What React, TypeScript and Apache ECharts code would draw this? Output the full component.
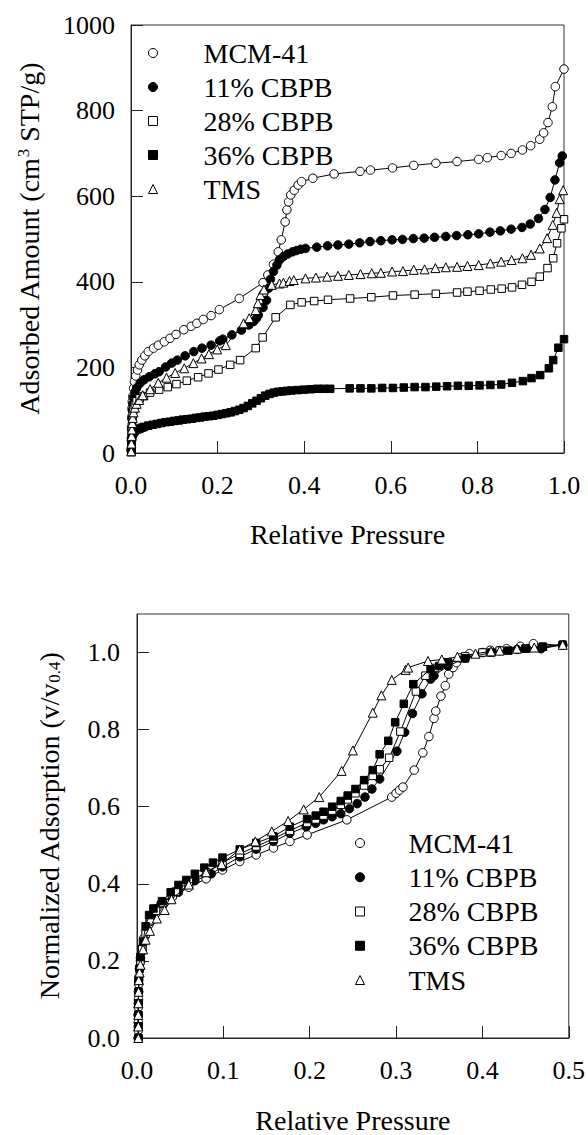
import React, { useEffect, useRef } from "react";
import * as echarts from "echarts";

const FONT = "Liberation Serif";

const SERIES_NAMES = ["MCM-41", "11% CBPB", "28% CBPB", "36% CBPB", "TMS"];
const SYMBOLS = ["circle", "circle", "rect", "rect", "triangle"];
const FILLS = ["#ffffff", "#000000", "#ffffff", "#000000", "#ffffff"];

const TOP_X_TICKS = ["0.0", "0.2", "0.4", "0.6", "0.8", "1.0"];
const TOP_Y_TICKS = ["0", "200", "400", "600", "800", "1000"];
const BOT_X_TICKS = ["0.0", "0.1", "0.2", "0.3", "0.4", "0.5"];
const BOT_Y_TICKS = ["0.0", "0.2", "0.4", "0.6", "0.8", "1.0"];

// Top chart: adsorbed amount (cm3 STP/g) vs relative pressure
const MCM41_TOP = [
  [0.0005, 8], [0.001, 35], [0.0015, 60], [0.002, 85], [0.0025, 105], [0.003, 120], [0.004, 132],
  [0.006, 151], [0.008, 167], [0.011, 180], [0.015, 194], [0.019, 206], [0.025, 217], [0.032, 227],
  [0.04, 237], [0.052, 245], [0.063, 252], [0.077, 260], [0.09, 268], [0.104, 277], [0.122, 288],
  [0.139, 296], [0.152, 303], [0.167, 312], [0.185, 321], [0.204, 335], [0.25, 361], [0.305, 398],
  [0.316, 416], [0.329, 441], [0.34, 470], [0.347, 498], [0.356, 540], [0.36, 568], [0.364, 587],
  [0.369, 603], [0.377, 614], [0.386, 626], [0.394, 634], [0.42, 642], [0.469, 652], [0.529, 658],
  [0.553, 661], [0.604, 666], [0.653, 672], [0.704, 677], [0.753, 681], [0.803, 686], [0.823, 690],
  [0.855, 695], [0.878, 700], [0.904, 708], [0.923, 718], [0.944, 733], [0.953, 748], [0.963, 772],
  [0.973, 809], [0.98, 856], [1.0, 897],
];
const CBPB11_TOP = [
  [0.0005, 5], [0.001, 30], [0.0015, 55], [0.002, 80], [0.003, 100], [0.004, 115], [0.006, 130],
  [0.009, 142], [0.013, 152], [0.021, 163], [0.03, 171], [0.042, 178], [0.055, 185], [0.065, 190],
  [0.08, 201], [0.094, 210], [0.107, 217], [0.125, 227], [0.145, 237], [0.164, 245], [0.185, 252],
  [0.205, 262], [0.212, 266], [0.233, 276], [0.255, 287], [0.272, 299], [0.283, 307], [0.29, 315],
  [0.294, 322], [0.305, 340], [0.313, 357], [0.318, 385], [0.322, 406], [0.329, 424], [0.337, 439],
  [0.343, 451], [0.352, 459], [0.362, 465], [0.373, 470], [0.382, 473], [0.392, 476], [0.403, 478],
  [0.429, 481], [0.454, 484], [0.478, 486], [0.503, 488], [0.528, 491], [0.552, 494], [0.577, 496],
  [0.603, 498], [0.627, 499], [0.652, 501], [0.677, 502], [0.701, 504], [0.727, 506], [0.752, 508],
  [0.778, 510], [0.803, 512], [0.829, 516], [0.853, 519], [0.878, 523], [0.903, 527], [0.922, 535],
  [0.941, 548], [0.956, 569], [0.968, 597], [0.979, 638], [0.99, 678], [0.996, 694],
];
const CBPB28_TOP = [
  [0.0005, 5], [0.001, 25], [0.0015, 45], [0.002, 62], [0.003, 78], [0.004, 90], [0.006, 102],
  [0.009, 112], [0.013, 121], [0.02, 128], [0.03, 133], [0.044, 141], [0.065, 148], [0.085, 154],
  [0.105, 161], [0.129, 169], [0.155, 177], [0.179, 186], [0.202, 195], [0.229, 206], [0.252, 217],
  [0.288, 245], [0.304, 270], [0.334, 317], [0.368, 346], [0.394, 352], [0.423, 355], [0.455, 358],
  [0.506, 361], [0.555, 364], [0.605, 368], [0.655, 370], [0.704, 372], [0.753, 375], [0.777, 377],
  [0.805, 379], [0.831, 382], [0.856, 384], [0.88, 387], [0.903, 393], [0.925, 400], [0.944, 412],
  [0.962, 432], [0.975, 455], [0.984, 490], [0.994, 525], [1.0, 546],
];
const CBPB36_TOP = [
  [0.0005, 2], [0.001, 10], [0.0015, 22], [0.002, 32], [0.003, 40], [0.004, 44], [0.006, 48],
  [0.008, 51], [0.01, 53], [0.015, 55], [0.02, 57], [0.025, 59], [0.03, 61], [0.04, 64], [0.05, 66],
  [0.06, 68], [0.07, 70], [0.08, 72], [0.09, 73], [0.1, 75], [0.11, 76], [0.12, 78], [0.13, 79],
  [0.14, 80], [0.15, 82], [0.16, 83], [0.17, 85], [0.18, 86], [0.19, 87], [0.2, 89], [0.21, 91],
  [0.22, 93], [0.23, 95], [0.24, 98], [0.25, 101], [0.26, 105], [0.27, 110], [0.28, 116],
  [0.29, 122], [0.3, 128], [0.31, 134], [0.32, 138], [0.33, 141], [0.34, 143], [0.35, 144],
  [0.36, 145], [0.37, 146], [0.385, 147], [0.4, 148], [0.415, 149], [0.43, 150], [0.445, 150],
  [0.46, 150], [0.505, 151], [0.53, 151], [0.555, 151], [0.58, 152], [0.605, 152], [0.63, 153],
  [0.655, 154], [0.68, 154], [0.705, 155], [0.73, 156], [0.755, 157], [0.78, 157], [0.805, 158],
  [0.83, 159], [0.855, 160], [0.88, 164], [0.905, 168], [0.925, 175], [0.945, 182], [0.965, 198],
  [0.975, 217], [0.987, 246], [1.0, 266],
];
const TMS_TOP = [
  [0.0005, 4], [0.001, 22], [0.0015, 40], [0.002, 55], [0.003, 70], [0.004, 82], [0.006, 95],
  [0.009, 106], [0.013, 115], [0.019, 124], [0.027, 135], [0.044, 149], [0.063, 164], [0.082, 176],
  [0.102, 187], [0.123, 198], [0.144, 210], [0.163, 221], [0.18, 231], [0.199, 242], [0.219, 252],
  [0.26, 303], [0.273, 315], [0.288, 334], [0.293, 350], [0.299, 369], [0.307, 382], [0.325, 393],
  [0.343, 396], [0.352, 398], [0.366, 402], [0.376, 404], [0.403, 408], [0.427, 410], [0.453, 412],
  [0.478, 414], [0.503, 416], [0.53, 418], [0.556, 420], [0.577, 421], [0.603, 424], [0.628, 425],
  [0.653, 428], [0.678, 429], [0.703, 432], [0.727, 434], [0.753, 435], [0.777, 437], [0.803, 439],
  [0.83, 443], [0.855, 447], [0.879, 451], [0.904, 455], [0.924, 463], [0.944, 478], [0.961, 502],
  [0.974, 533], [0.983, 561], [0.99, 593], [0.998, 614],
];

// Bottom chart: normalized adsorption (v/v0.4) vs relative pressure
const MCM41_BOT = [
  [0.0015, 0.0], [0.0015, 0.02], [0.0015, 0.04], [0.0015, 0.06], [0.0016, 0.08], [0.0017, 0.1],
  [0.0018, 0.12], [0.002, 0.14], [0.0025, 0.16], [0.003, 0.18], [0.004, 0.208], [0.006, 0.235],
  [0.008, 0.259], [0.011, 0.28], [0.015, 0.302], [0.023, 0.336], [0.032, 0.352], [0.041, 0.366],
  [0.06, 0.391], [0.08, 0.413], [0.099, 0.436], [0.119, 0.458], [0.138, 0.475], [0.158, 0.493],
  [0.177, 0.51], [0.197, 0.527], [0.243, 0.566], [0.295, 0.625], [0.3, 0.635], [0.304, 0.643],
  [0.308, 0.651], [0.321, 0.695], [0.331, 0.74], [0.338, 0.782], [0.344, 0.829], [0.346, 0.848],
  [0.352, 0.887], [0.357, 0.914], [0.361, 0.944], [0.366, 0.961], [0.37, 0.974], [0.374, 0.986],
  [0.385, 0.997], [0.409, 1.006], [0.428, 1.01], [0.444, 1.016], [0.459, 1.023], [0.493, 1.019],
];
const CBPB11_BOT = [
  [0.0015, 0.0], [0.0015, 0.03], [0.0015, 0.06], [0.0016, 0.09], [0.0018, 0.12], [0.002, 0.15],
  [0.003, 0.18], [0.004, 0.2], [0.006, 0.225], [0.011, 0.276], [0.018, 0.319], [0.028, 0.349],
  [0.048, 0.378], [0.067, 0.408], [0.086, 0.426], [0.099, 0.444], [0.119, 0.47], [0.138, 0.49],
  [0.158, 0.51], [0.177, 0.531], [0.196, 0.548], [0.207, 0.557], [0.216, 0.566], [0.226, 0.574],
  [0.236, 0.582], [0.246, 0.595], [0.255, 0.608], [0.264, 0.625], [0.272, 0.646], [0.281, 0.672],
  [0.301, 0.744], [0.31, 0.793], [0.319, 0.842], [0.33, 0.893], [0.34, 0.931], [0.344, 0.94],
  [0.36, 0.965], [0.38, 0.985], [0.4, 1.0], [0.42, 1.005], [0.44, 1.008], [0.468, 1.01],
  [0.493, 1.02],
];
const CBPB28_BOT = [
  [0.0015, 0.0], [0.0015, 0.03], [0.0015, 0.06], [0.0016, 0.09], [0.0018, 0.12], [0.002, 0.15],
  [0.003, 0.18], [0.004, 0.2], [0.006, 0.23], [0.01, 0.27], [0.015, 0.305], [0.022, 0.33],
  [0.03, 0.35], [0.045, 0.38], [0.06, 0.405], [0.08, 0.43], [0.099, 0.455], [0.119, 0.478],
  [0.138, 0.497], [0.158, 0.517], [0.177, 0.538], [0.197, 0.558], [0.207, 0.567], [0.216, 0.577],
  [0.226, 0.59], [0.236, 0.605], [0.244, 0.619], [0.253, 0.635], [0.263, 0.655], [0.273, 0.68],
  [0.281, 0.697], [0.292, 0.727], [0.305, 0.795], [0.323, 0.899], [0.334, 0.94], [0.345, 0.96],
  [0.36, 0.975], [0.38, 0.99], [0.4, 1.0], [0.42, 1.005], [0.45, 1.01], [0.47, 1.015],
  [0.493, 1.02],
];
const CBPB36_BOT = [
  [0.0015, 0.0], [0.0015, 0.03], [0.0015, 0.06], [0.0016, 0.09], [0.0018, 0.12], [0.002, 0.15],
  [0.003, 0.18], [0.004, 0.21], [0.007, 0.25], [0.01, 0.29], [0.014, 0.319], [0.019, 0.336],
  [0.029, 0.355], [0.039, 0.378], [0.048, 0.397], [0.057, 0.41], [0.067, 0.426], [0.078, 0.442],
  [0.088, 0.455], [0.099, 0.468], [0.119, 0.489], [0.138, 0.506], [0.158, 0.523], [0.177, 0.548],
  [0.197, 0.568], [0.207, 0.577], [0.216, 0.587], [0.226, 0.6], [0.236, 0.615], [0.244, 0.629],
  [0.253, 0.646], [0.263, 0.669], [0.273, 0.695], [0.281, 0.736], [0.291, 0.771], [0.299, 0.819],
  [0.309, 0.867], [0.32, 0.918], [0.34, 0.957], [0.35, 0.965], [0.36, 0.972], [0.38, 0.985],
  [0.41, 1.0], [0.43, 1.005], [0.45, 1.01], [0.47, 1.015], [0.493, 1.02],
];
const TMS_BOT = [
  [0.0015, 0.0], [0.0015, 0.03], [0.0015, 0.06], [0.0016, 0.09], [0.0018, 0.12], [0.002, 0.15],
  [0.003, 0.17], [0.004, 0.19], [0.007, 0.23], [0.01, 0.255], [0.015, 0.278], [0.023, 0.31],
  [0.032, 0.332], [0.04, 0.36], [0.06, 0.398], [0.08, 0.43], [0.098, 0.451], [0.119, 0.489],
  [0.137, 0.51], [0.156, 0.536], [0.175, 0.563], [0.193, 0.593], [0.211, 0.625], [0.237, 0.693],
  [0.25, 0.746], [0.273, 0.844], [0.283, 0.889], [0.295, 0.929], [0.311, 0.955], [0.314, 0.961],
  [0.337, 0.978], [0.353, 0.982], [0.371, 0.989], [0.392, 0.997], [0.41, 1.003], [0.42, 1.005],
  [0.44, 1.01], [0.46, 1.013], [0.493, 1.02],
];

const TOP_DATA = [MCM41_TOP, CBPB11_TOP, CBPB28_TOP, CBPB36_TOP, TMS_TOP];
const BOT_DATA = [MCM41_BOT, CBPB11_BOT, CBPB28_BOT, CBPB36_BOT, TMS_BOT];

function buildOption() {
  const tickLabel = (labels: string[], min: number, step: number) => ({
    color: "#000",
    fontFamily: FONT,
    fontSize: 26,
    formatter: (v: number) => labels[Math.round((v - min) / step)] ?? "",
  });

  const mkSeries = (data: number[][], i: number, axis: number) => ({
    name: SERIES_NAMES[i],
    type: "line",
    xAxisIndex: axis,
    yAxisIndex: axis,
    data,
    symbol: SYMBOLS[i],
    symbolSize: SYMBOLS[i] === "triangle" ? 9 : SYMBOLS[i] === "rect" ? 7.5 : 8.5,
    showAllSymbol: true,
    clip: false,
    lineStyle: { color: "#000", width: 1 },
    itemStyle: { color: FILLS[i], borderColor: "#000", borderWidth: 1 },
    emphasis: { disabled: true },
    z: 2 + i,
  });

  const legendData = SERIES_NAMES.map((n, i) => ({
    name: n,
    icon: SYMBOLS[i],
    itemStyle: { color: FILLS[i], borderColor: "#000", borderWidth: 1 },
  }));

  const commonAxisLine = { show: true, lineStyle: { color: "#222", width: 1 } };
  const commonTick = { show: true, inside: true, length: 12, lineStyle: { color: "#222", width: 1 } };
  const nameStyle = { fontFamily: FONT, fontSize: 28, color: "#000" };

  return {
    animation: false,
    backgroundColor: "#fff",
    textStyle: { fontFamily: FONT },
    grid: [
      { left: 131, top: 25, width: 433, height: 428, show: true, borderColor: "#333", borderWidth: 1, backgroundColor: "transparent" },
      { left: 137, top: 614, width: 436, height: 431, show: true, borderColor: "#333", borderWidth: 1, backgroundColor: "transparent" },
    ],
    legend: [
      {
        data: legendData,
        orient: "vertical",
        left: 148,
        top: 39,
        padding: 0,
        itemGap: 6,
        itemWidth: 9,
        itemHeight: 9,
        selectedMode: false,
        textStyle: { fontFamily: FONT, fontSize: 28, color: "#000", lineHeight: 28, padding: [0, 0, 0, 41] },
      },
      {
        data: legendData,
        orient: "vertical",
        left: 355,
        top: 829,
        padding: 0,
        itemGap: 6.25,
        itemWidth: 9,
        itemHeight: 9,
        selectedMode: false,
        textStyle: { fontFamily: FONT, fontSize: 28, color: "#000", lineHeight: 28, padding: [0, 0, 0, 39] },
      },
    ],
    xAxis: [
      {
        type: "value", gridIndex: 0, min: 0, max: 1, interval: 0.2,
        axisLine: commonAxisLine, axisTick: commonTick, splitLine: { show: false },
        axisLabel: { ...tickLabel(TOP_X_TICKS, 0, 0.2), margin: 19 },
        name: "Relative Pressure", nameLocation: "middle", nameGap: 67,
        nameTextStyle: nameStyle,
      },
      {
        type: "value", gridIndex: 1, min: 0, max: 0.5, interval: 0.1,
        axisLine: commonAxisLine, axisTick: commonTick, splitLine: { show: false },
        axisLabel: { ...tickLabel(BOT_X_TICKS, 0, 0.1), margin: 19 },
        name: "Relative Pressure", nameLocation: "middle", nameGap: 68,
        nameTextStyle: nameStyle,
      },
    ],
    yAxis: [
      {
        type: "value", gridIndex: 0, min: 0, max: 1000, interval: 200,
        axisLine: commonAxisLine, axisTick: commonTick, splitLine: { show: false },
        axisLabel: { ...tickLabel(TOP_Y_TICKS, 0, 200), margin: 16 },
        name: "Adsorbed Amount (cm{sup|3} STP/g)", nameLocation: "middle", nameGap: 88, nameRotate: 90,
        nameTextStyle: {
          ...nameStyle,
          rich: { sup: { fontFamily: FONT, fontSize: 17, color: "#000", verticalAlign: "top" } },
        },
      },
      {
        type: "value", gridIndex: 1, min: 0, max: 1.1, interval: 0.2,
        axisLine: commonAxisLine, axisTick: commonTick, splitLine: { show: false },
        axisLabel: { ...tickLabel(BOT_Y_TICKS, 0, 0.2), margin: 17, showMaxLabel: false },
        name: "Normalized Adsorption (v/v{sub|0.4})", nameLocation: "middle", nameGap: 74, nameRotate: 90,
        nameTextStyle: {
          ...nameStyle,
          rich: { sub: { fontFamily: FONT, fontSize: 17, color: "#000", verticalAlign: "bottom" } },
        },
      },
    ],
    series: [
      ...TOP_DATA.map((d, i) => mkSeries(d, i, 0)),
      ...BOT_DATA.map((d, i) => mkSeries(d, i, 1)),
    ],
  };
}

export default function App() {
  const ref = useRef<HTMLDivElement>(null);
  useEffect(() => {
    if (!ref.current) return;
    const chart = echarts.init(ref.current, undefined, { renderer: "svg" });
    chart.setOption(buildOption() as any);
    return () => chart.dispose();
  }, []);
  return (
    <div
      ref={ref}
      style={{ position: "absolute", left: 0, top: 0, width: 588, height: 1135, background: "#fff" }}
    />
  );
}
